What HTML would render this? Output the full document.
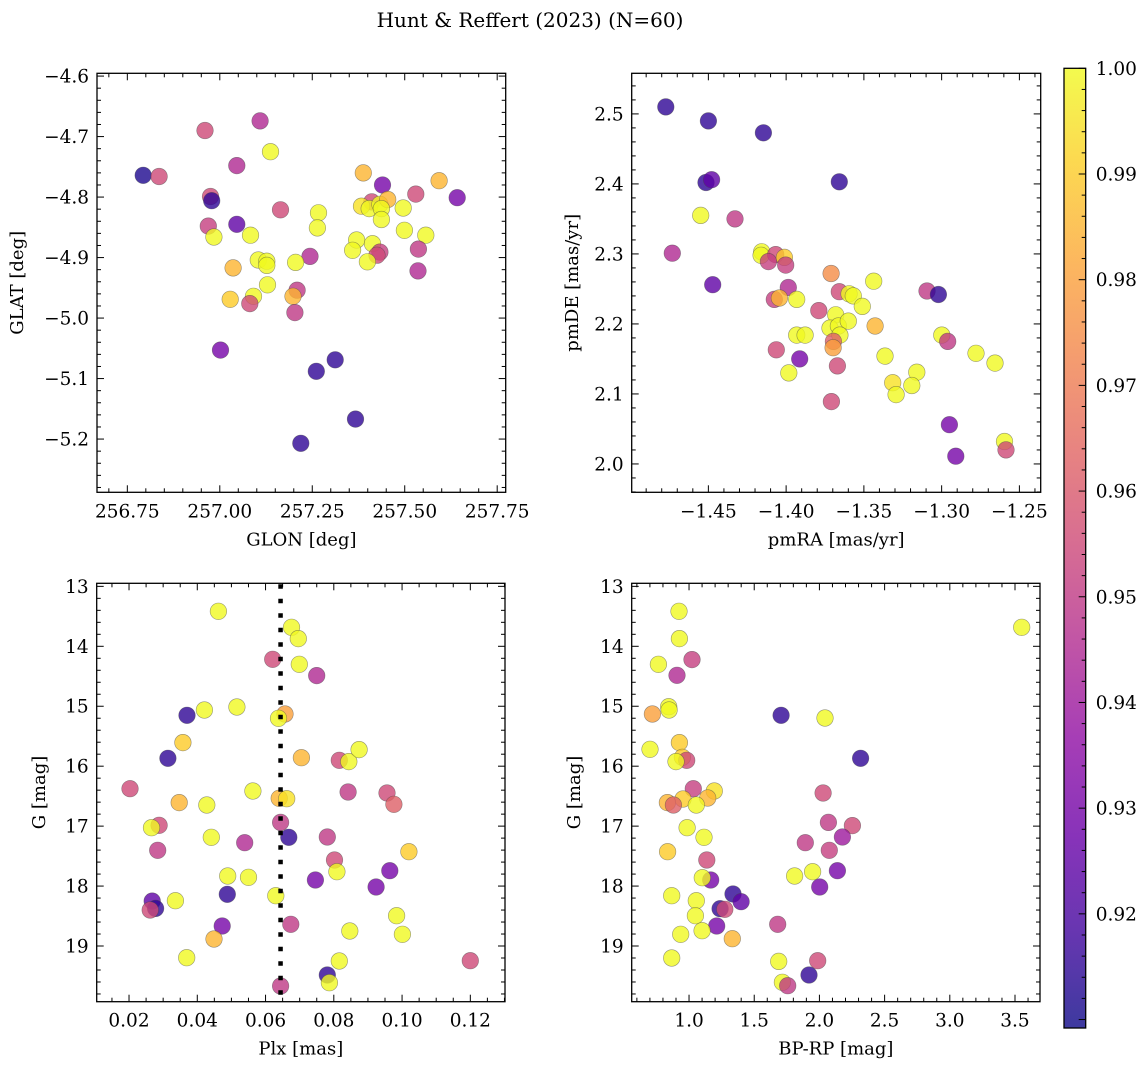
<!DOCTYPE html>
<html><head><meta charset="utf-8">
<style>
html,body{margin:0;padding:0;background:#fff;}
svg{display:block;font-family:"DejaVu Serif","Liberation Serif",serif;}
</style></head>
<body>
<svg id="fig" width="1148" height="1068" viewBox="0 0 1148 1068" xmlns="http://www.w3.org/2000/svg">
<defs>
<linearGradient id="plasma" x1="0" y1="1" x2="0" y2="0">
<stop offset="0" stop-color="#0d0887"/><stop offset="0.1" stop-color="#41049d"/><stop offset="0.2" stop-color="#6a00a8"/><stop offset="0.3" stop-color="#8f0da4"/><stop offset="0.4" stop-color="#b12a90"/><stop offset="0.5" stop-color="#cc4778"/><stop offset="0.6" stop-color="#e16462"/><stop offset="0.7" stop-color="#f2844b"/><stop offset="0.8" stop-color="#fca636"/><stop offset="0.9" stop-color="#fcce25"/><stop offset="1" stop-color="#f0f921"/>
</linearGradient>
</defs>
<text x="530" y="27" text-anchor="middle" font-size="20">Hunt &amp; Reffert (2023) (N=60)</text>
</svg>
<script>
// Panel 1: GLON / GLAT
const glon=[256.793,256.836,256.96,257.109,257.137,257.046,256.975,256.978,257.164,256.969,257.046,256.984,257.083,257.267,257.264,257.388,257.44,257.593,257.53,257.642,257.411,257.383,257.404,257.433,257.454,257.437,257.437,257.496,257.499,257.557,257.37,257.413,257.359,257.433,257.425,257.399,257.537,257.536,257.244,257.104,257.127,257.127,257.205,257.036,257.129,257.209,257.198,257.091,257.028,257.081,257.203,257.002,257.312,257.261,257.367,257.219];
const glat=[-4.764,-4.766,-4.69,-4.674,-4.725,-4.748,-4.799,-4.806,-4.821,-4.848,-4.845,-4.866,-4.863,-4.826,-4.851,-4.76,-4.78,-4.773,-4.795,-4.801,-4.808,-4.815,-4.819,-4.812,-4.804,-4.819,-4.837,-4.818,-4.855,-4.863,-4.871,-4.877,-4.888,-4.891,-4.896,-4.907,-4.886,-4.922,-4.898,-4.904,-4.906,-4.913,-4.908,-4.917,-4.945,-4.954,-4.964,-4.964,-4.969,-4.976,-4.991,-5.053,-5.069,-5.088,-5.167,-5.207];
const c1=[0.912,0.955,0.955,0.945,1,0.945,0.955,0.915,0.955,0.952,0.925,1,1,1,1,0.985,0.93,0.985,0.955,0.93,0.955,0.995,1,1,0.985,1,1,1,1,1,1,1,1,0.952,0.955,1,0.95,0.945,0.945,1,1,1,1,0.985,1,0.95,0.985,1,0.99,0.955,0.95,0.93,0.915,0.915,0.915,0.915];
// Panel 2: pmRA / pmDE
const pmra=[-1.4774,-1.45,-1.4146,-1.4515,-1.4479,-1.3658,-1.4549,-1.4329,-1.4732,-1.4157,-1.4161,-1.4067,-1.4114,-1.4011,-1.4003,-1.4472,-1.3711,-1.3437,-1.3986,-1.3658,-1.3595,-1.3568,-1.351,-1.4076,-1.4043,-1.3932,-1.3094,-1.3021,-1.379,-1.3681,-1.3718,-1.3664,-1.36,-1.3654,-1.3696,-1.3698,-1.3428,-1.3932,-1.3878,-1.2999,-1.2961,-1.4063,-1.3913,-1.3364,-1.2779,-1.2657,-1.367,-1.3983,-1.316,-1.3315,-1.3192,-1.3293,-1.3709,-1.295,-1.2909,-1.2596,-1.2586];
const pmde=[2.51,2.49,2.473,2.402,2.406,2.403,2.355,2.35,2.301,2.303,2.298,2.299,2.289,2.295,2.284,2.256,2.272,2.261,2.252,2.246,2.243,2.24,2.225,2.235,2.237,2.235,2.247,2.242,2.219,2.213,2.194,2.197,2.204,2.184,2.175,2.166,2.197,2.184,2.184,2.184,2.175,2.163,2.15,2.154,2.158,2.144,2.14,2.13,2.131,2.116,2.112,2.099,2.089,2.056,2.011,2.032,2.02];
const c2=[0.915,0.915,0.915,0.915,0.925,0.915,1,0.95,0.945,1,1,0.955,0.952,0.99,0.952,0.925,0.975,1,0.945,0.955,1,1,1,0.952,0.985,1,0.95,0.915,0.955,1,1,1,1,1,0.962,0.98,0.985,1,1,1,0.95,0.955,0.93,1,1,1,0.955,1,1,0.995,1,1,0.955,0.93,0.93,1,0.955];
// Panel 3: Plx / G
const plx=[0.0462,0.0676,0.0696,0.0621,0.0699,0.075,0.037,0.0421,0.0516,0.0657,0.0638,0.0358,0.0314,0.0705,0.0816,0.0844,0.0874,0.0203,0.0563,0.0842,0.0956,0.0976,0.0347,0.0428,0.064,0.0662,0.0644,0.0288,0.0266,0.0441,0.0668,0.0781,0.0539,0.0284,0.102,0.0802,0.0809,0.0489,0.055,0.0746,0.0964,0.0924,0.0488,0.063,0.0336,0.0268,0.0278,0.0262,0.0984,0.0473,0.0674,0.0449,0.0847,0.1001,0.0369,0.0816,0.12,0.0781,0.0787,0.0644];
const g3=[13.416,13.683,13.872,14.217,14.3,14.489,15.151,15.062,15.012,15.129,15.201,15.607,15.869,15.858,15.902,15.924,15.724,16.375,16.414,16.43,16.447,16.636,16.608,16.647,16.536,16.542,16.937,16.987,17.026,17.187,17.187,17.181,17.276,17.404,17.426,17.565,17.76,17.832,17.854,17.899,17.743,18.016,18.138,18.16,18.244,18.25,18.372,18.399,18.494,18.666,18.638,18.883,18.75,18.805,19.195,19.25,19.245,19.484,19.612,19.667];
const c3=[1,1,1,0.955,1,0.945,0.915,1,1,0.98,1,0.99,0.915,0.985,0.955,1,1,0.955,1,0.95,0.955,0.962,0.985,1,0.985,0.995,0.95,0.955,1,1,0.915,0.95,0.945,0.95,0.99,0.955,1,1,1,0.93,0.93,0.93,0.915,1,1,0.925,0.915,0.955,1,0.93,0.95,0.985,1,1,1,1,0.955,0.915,1,0.95];
const plxLine=0.0644;
// Panel 4: BP-RP / G
const bprp=[0.923,3.551,0.926,1.023,0.765,0.908,0.844,0.847,0.719,1.706,2.043,0.926,0.701,2.316,0.949,0.982,0.9,1.033,1.194,1.143,0.954,0.834,0.88,1.056,2.028,2.069,2.253,0.985,1.115,2.176,1.892,2.076,0.836,1.136,1.166,1.102,1.81,1.948,2.138,2.002,0.867,1.337,1.399,1.056,1.238,1.274,1.049,1.212,1.68,1.1,0.936,1.332,0.867,1.688,1.987,1.92,1.716,1.757];
const g4=[13.416,13.683,13.872,14.222,14.3,14.484,15.007,15.062,15.129,15.151,15.196,15.607,15.719,15.869,15.852,15.902,15.924,16.375,16.414,16.531,16.547,16.608,16.647,16.647,16.447,16.937,16.992,17.026,17.187,17.181,17.276,17.404,17.426,17.565,17.899,17.86,17.832,17.76,17.743,18.016,18.16,18.132,18.26,18.244,18.377,18.388,18.494,18.666,18.638,18.744,18.805,18.878,19.2,19.256,19.245,19.484,19.606,19.662];
const c4=[1,1,1,0.952,1,0.945,1,1,0.98,0.915,1,0.99,1,0.915,0.99,0.955,1,0.952,0.995,0.985,0.99,0.985,0.962,1,0.955,0.95,0.955,1,1,0.94,0.95,0.952,0.99,0.955,0.93,1,1,1,0.93,0.93,1,0.915,0.925,1,0.915,0.955,1,0.93,0.95,1,1,0.985,1,1,0.955,0.915,1,0.95];
// Colorbar
const cMin=0.9092, cMax=1.0;
const cbTicks=[0.92,0.93,0.94,0.95,0.96,0.97,0.98,0.99,1.00];

const NS="http://www.w3.org/2000/svg";
const svg=document.getElementById('fig');
function mk(tag,attrs,parent){const e=document.createElementNS(NS,tag);for(const k in attrs)e.setAttribute(k,attrs[k]);(parent||svg).appendChild(e);return e;}
const stops=[[13,8,135],[65,4,157],[106,0,168],[143,13,164],[177,42,144],[204,71,120],[225,100,98],[242,132,75],[252,166,54],[252,206,37],[240,249,33]];
function plasma(v){let t=(v-cMin)/(cMax-cMin);t=Math.max(0,Math.min(1,t))*10;const i=Math.min(9,Math.floor(t)),f=t-i;const a=stops[i],b=stops[i+1];return `rgb(${Math.round(a[0]+(b[0]-a[0])*f)},${Math.round(a[1]+(b[1]-a[1])*f)},${Math.round(a[2]+(b[2]-a[2])*f)})`;}
const fmt=(v,d)=>(v<0?'\u2212':'')+Math.abs(v).toFixed(d);
const TF=18.5, LF=18;

function panel(o){
  const g=mk('g',{});
  
  
  const sx=v=>o.x0+(v-o.xmin)/(o.xmax-o.xmin)*(o.x1-o.x0);
  const sy=o.yinv?(v=>o.y0+(v-o.ymin)/(o.ymax-o.ymin)*(o.y1-o.y0)):(v=>o.y1-(v-o.ymin)/(o.ymax-o.ymin)*(o.y1-o.y0));
  const pg=mk('g',{},g);
  
  
  for(let i=0;i<o.xs.length;i++){
    const c=mk('circle',{cx:sx(o.xs[i]).toFixed(1),cy:sy(o.ys[i]).toFixed(1),r:8.3,fill:plasma(o.cs[i]),'fill-opacity':0.8,stroke:'rgba(70,70,70,0.55)','stroke-width':0.6},pg);
    
    
  }
  if(o.vline!==undefined){
    const l=mk('line',{x1:sx(o.vline),x2:sx(o.vline),y1:o.y0+1,y2:o.y1,stroke:'#000','stroke-width':4.5,'stroke-dasharray':'4.5 10'},g);
    
    
  }
  const fr=mk('rect',{x:o.x0,y:o.y0,width:o.x1-o.x0,height:o.y1-o.y0,fill:'none',stroke:'#000','stroke-width':1.3},g);
  
  
  const tg=mk('g',{stroke:'#000','stroke-width':1},g);
  const eps=1e-9;
  for(let v=Math.ceil(o.xmin/o.xminor-eps)*o.xminor;v<=o.xmax+eps;v+=o.xminor){
    const major=Math.abs(v/o.xmajor-Math.round(v/o.xmajor))<1e-4;const L=major?7:4;const X=sx(v);
    mk('line',{x1:X,x2:X,y1:o.y1,y2:o.y1-L},tg);mk('line',{x1:X,x2:X,y1:o.y0,y2:o.y0+L},tg);
    if(major){const t=mk('text',{x:X,y:o.y1+25,'text-anchor':'middle','font-size':TF,stroke:'none',fill:'#000'},g);t.textContent=fmt(v,o.xd);
      }
  }
  for(let v=Math.ceil(o.ymin/o.yminor-eps)*o.yminor;v<=o.ymax+eps;v+=o.yminor){
    const major=Math.abs(v/o.ymajor-Math.round(v/o.ymajor))<1e-4;const L=major?7:4;const Y=sy(v);
    mk('line',{x1:o.x0,x2:o.x0+L,y1:Y,y2:Y},tg);mk('line',{x1:o.x1,x2:o.x1-L,y1:Y,y2:Y},tg);
    if(major){const t=mk('text',{x:o.x0-8,y:Y+6.5,'text-anchor':'end','font-size':TF,stroke:'none',fill:'#000'},g);t.textContent=fmt(v,o.yd);
      }
  }
  const xl=mk('text',{x:(o.x0+o.x1)/2,y:o.y1+53,'text-anchor':'middle','font-size':LF},g);xl.textContent=o.xlabel;
  
  const yx=o.ylx, yy=(o.y0+o.y1)/2;
  const yl=mk('text',{x:yx,y:yy,'text-anchor':'middle','font-size':LF,transform:`rotate(-90 ${yx} ${yy})`},g);yl.textContent=o.ylabel;
  
}

panel({name:'sky-position-panel',x0:97,x1:505.7,y0:73.3,y1:492.3,xmin:256.668,xmax:257.773,ymin:-5.288,ymax:-4.5954,
  xs:glon,ys:glat,cs:c1,xmajor:0.25,xminor:0.05,ymajor:0.1,yminor:0.02,xd:2,yd:1,xlabel:'GLON [deg]',ylabel:'GLAT [deg]',ylx:23});
panel({name:'proper-motion-panel',x0:631.7,x1:1040.7,y0:73.3,y1:492.3,xmin:-1.4993,xmax:-1.2363,ymin:1.9595,ymax:2.558,
  xs:pmra,ys:pmde,cs:c2,xmajor:0.05,xminor:0.01,ymajor:0.1,yminor:0.02,xd:2,yd:1,xlabel:'pmRA [mas/yr]',ylabel:'pmDE [mas/yr]',ylx:578});
panel({name:'parallax-magnitude-panel',x0:96.7,x1:505,y0:583.3,y1:1001.7,xmin:0.01053,xmax:0.13016,ymin:12.949,ymax:19.929,yinv:true,
  xs:plx,ys:g3,cs:c3,xmajor:0.02,xminor:0.005,ymajor:1,yminor:0.2,xd:2,yd:0,xlabel:'Plx [mas]',ylabel:'G [mag]',ylx:45,vline:plxLine});
panel({name:'color-magnitude-panel',x0:631.7,x1:1040,y0:583.3,y1:1001.7,xmin:0.5603,xmax:3.6917,ymin:12.949,ymax:19.929,yinv:true,
  xs:bprp,ys:g4,cs:c4,xmajor:0.5,xminor:0.1,ymajor:1,yminor:0.2,xd:1,yd:0,xlabel:'BP-RP [mag]',ylabel:'G [mag]',ylx:580});

(function(){
  const x0=1064,x1=1085.7,y0=68.3,y1=1028;
  const g=mk('g',{});
  
  
  mk('rect',{x:x0,y:y0,width:x1-x0,height:y1-y0,fill:'url(#plasma)','fill-opacity':0.8},g);
  mk('rect',{x:x0,y:y0,width:x1-x0,height:y1-y0,fill:'none',stroke:'#000','stroke-width':1.3},g);
  const sy=v=>y1-(v-cMin)/(cMax-cMin)*(y1-y0);
  for(let k=Math.ceil(cMin/0.002);k*0.002<=cMax+1e-9;k++){
    const v=k*0.002;const Y=sy(v);const major=k%5===0;
    mk('line',{x1:x1,x2:x1-(major?7:4),y1:Y,y2:Y,stroke:'#000','stroke-width':1},g);
  }
  cbTicks.forEach(v=>{const t=mk('text',{x:x1+10,y:sy(v)+6.5,'font-size':TF},g);t.textContent=v.toFixed(2);
    
    });
})();
</script>
</body></html>
